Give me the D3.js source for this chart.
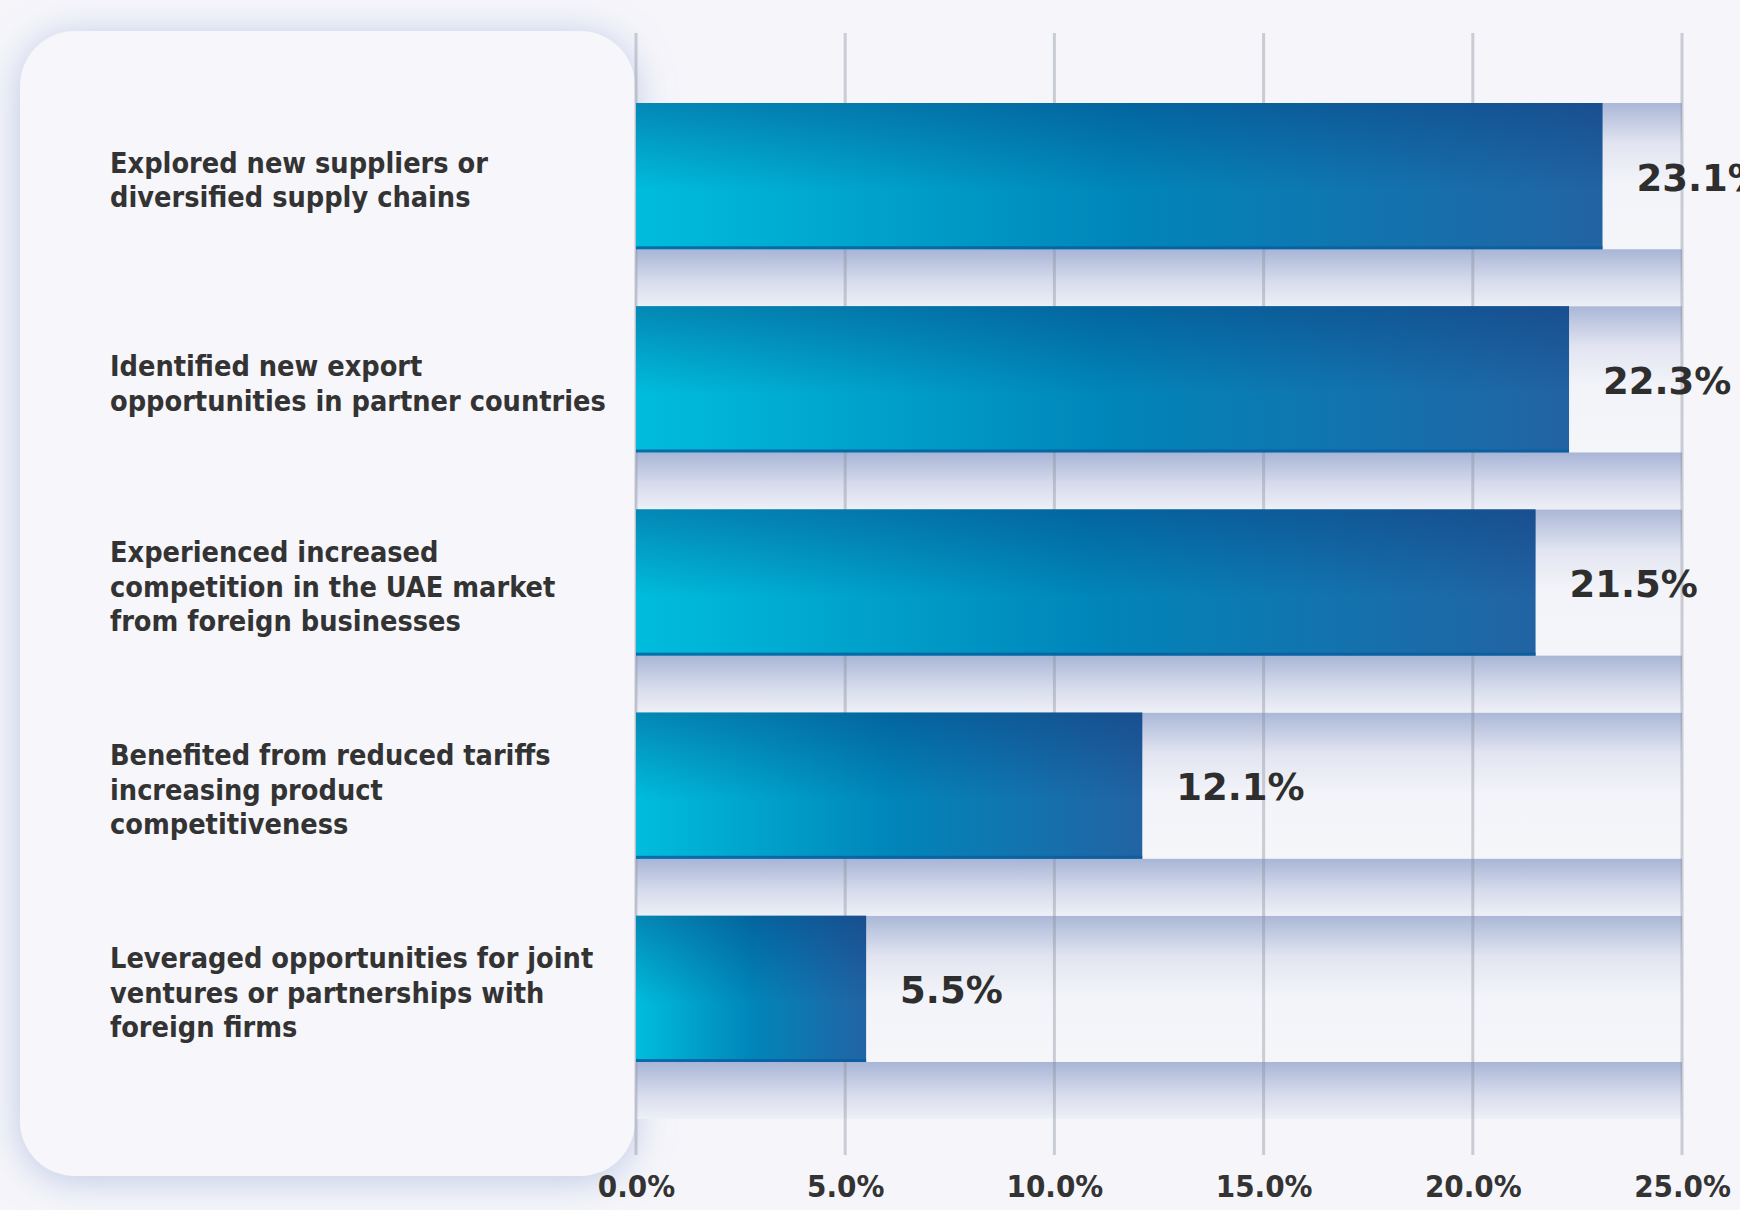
<!DOCTYPE html>
<html>
<head>
<meta charset="utf-8">
<script src="https://cdn.jsdelivr.net/npm/d3@7"></script>
<style>
  html, body { margin: 0; padding: 0; background: #f5f5fa; }
  svg { display: block; }
</style>
</head>
<body>
<svg id="chart" width="1740" height="1210"></svg>
<script>
// data
const categories = ["suppliers", "export", "competition", "tariffs", "ventures"];
const labelLines = [
  ["Explored new suppliers or", "diversified supply chains"],
  ["Identified new export", "opportunities in partner countries"],
  ["Experienced increased", "competition in the UAE market", "from foreign businesses"],
  ["Benefited from reduced tariffs", "increasing product", "competitiveness"],
  ["Leveraged opportunities for joint", "ventures or partnerships with", "foreign firms"]
];
const values = [23.1, 22.3, 21.5, 12.1, 5.5];
const tickValues = [0, 5, 10, 15, 20, 25];

const W = 1740, H = 1210;
const svg = d3.select("#chart");

const x = d3.scaleLinear().domain([0, 25]).range([636, 1682]);
const y = d3.scaleBand()
  .domain(categories)
  .range([103, 1062])
  .paddingInner(0.28)
  .paddingOuter(0);

const defs = svg.append("defs");

// card glow
const f = defs.append("filter").attr("id", "cardGlow")
  .attr("x", "-20%").attr("y", "-20%").attr("width", "140%").attr("height", "140%");
f.append("feDropShadow")
  .attr("dx", 0).attr("dy", 4)
  .attr("stdDeviation", 18)
  .attr("flood-color", "#b3c1e1")
  .attr("flood-opacity", 0.85);

function linGrad(id, x2, y2, stops) {
  const g = defs.append("linearGradient").attr("id", id)
    .attr("x1", 0).attr("y1", 0).attr("x2", x2).attr("y2", y2);
  stops.forEach(s => g.append("stop")
    .attr("offset", s[0]).attr("stop-color", s[1])
    .attr("stop-opacity", s[2] == null ? 1 : s[2]));
}
linGrad("barGrad", 1, 0, [[0, "#00bddd"], [0.5, "#0086ba"], [1, "#2263a3"]]);
linGrad("barShade", 0, 1, [[0, "#0a2a6e", 0.36], [0.6, "#0a2a6e", 0], [1, "#0a2a6e", 0]]);
linGrad("trackGrad", 0, 1, [[0, "#aab7d7"], [0.28, "#e2e5f1"], [0.55, "#f3f4f9"], [1, "#f5f6fa"]]);
linGrad("gapGrad", 0, 1, [[0, "#a8b5d6"], [0.55, "#d6dbec"], [1, "#eef0f7"]]);

svg.append("rect").attr("width", W).attr("height", H).attr("fill", "#f5f5fa");

// label card
svg.append("rect")
  .attr("x", 20).attr("y", 31)
  .attr("width", 615).attr("height", 1145)
  .attr("rx", 55)
  .attr("fill", "#f6f6fb")
  .attr("filter", "url(#cardGlow)");

const rows = svg.append("g");

// track behind each bar
rows.selectAll("rect.track")
  .data(categories)
  .join("rect")
  .attr("class", "track")
  .attr("x", x(0))
  .attr("y", d => y(d))
  .attr("width", x(25) - x(0))
  .attr("height", y.bandwidth())
  .attr("fill", "url(#trackGrad)");

// shaded gap under each bar
const gapH = y.step() - y.bandwidth();
rows.selectAll("rect.gap")
  .data(categories)
  .join("rect")
  .attr("class", "gap")
  .attr("x", x(0))
  .attr("y", d => y(d) + y.bandwidth())
  .attr("width", x(25) - x(0))
  .attr("height", gapH)
  .attr("fill", "url(#gapGrad)");

// grid
svg.append("g")
  .selectAll("line")
  .data(tickValues)
  .join("line")
  .attr("x1", d => x(d)).attr("x2", d => x(d))
  .attr("y1", 33).attr("y2", 1155)
  .attr("stroke", "#8a8f9c")
  .attr("stroke-opacity", 0.4)
  .attr("stroke-width", 3);

// bars
const bars = svg.append("g")
  .selectAll("g")
  .data(values)
  .join("g")
  .attr("transform", (d, i) => `translate(${x(0)},${y(categories[i])})`);

bars.append("rect")
  .attr("width", d => x(d) - x(0))
  .attr("height", y.bandwidth())
  .attr("fill", "url(#barGrad)");
bars.append("rect")
  .attr("width", d => x(d) - x(0))
  .attr("height", y.bandwidth())
  .attr("fill", "url(#barShade)");
bars.append("rect")
  .attr("y", y.bandwidth() - 3)
  .attr("width", d => x(d) - x(0))
  .attr("height", 3)
  .attr("fill", "#0b5e9f")
  .attr("opacity", 0.85);

// value labels
svg.append("g")
  .selectAll("text")
  .data(values)
  .join("text")
  .attr("x", d => x(d) + 34)
  .attr("y", (d, i) => y(categories[i]) + y.bandwidth() / 2 + 2)
  .attr("dominant-baseline", "central")
  .style("font-family", "'DejaVu Sans', sans-serif")
  .style("font-weight", 700)
  .style("font-size", "37px")
  .style("fill", "#2e2e2e")
  .text(d => d.toFixed(1) + "%");

// category labels
const lineH = 34.5;
const labels = svg.append("g")
  .selectAll("text")
  .data(labelLines)
  .join("text")
  .attr("x", 110)
  .attr("y", (d, i) => y(categories[i]) + y.bandwidth() / 2 + 4 - (d.length - 1) / 2 * lineH)
  .attr("dominant-baseline", "central")
  .style("font-family", "'DejaVu Sans Condensed', 'DejaVu Sans', sans-serif")
  .style("font-stretch", "condensed")
  .style("font-weight", 700)
  .style("font-size", "28.6px")
  .style("fill", "#333333");
labels.selectAll("tspan")
  .data(d => d)
  .join("tspan")
  .attr("x", 110)
  .attr("dy", (d, i) => i === 0 ? 0 : lineH)
  .text(d => d);

// x axis labels
const axis = svg.append("g")
  .attr("transform", "translate(0,1175)")
  .call(d3.axisBottom(x)
    .tickValues(tickValues)
    .tickFormat(d => d.toFixed(1) + "%")
    .tickSize(0)
    .tickPadding(0));
axis.select(".domain").remove();
axis.selectAll("text")
  .style("font-family", "'DejaVu Sans Condensed', 'DejaVu Sans', sans-serif")
  .style("font-stretch", "condensed")
  .style("font-weight", 700)
  .style("font-size", "31px")
  .style("fill", "#333333");
</script>
</body>
</html>
